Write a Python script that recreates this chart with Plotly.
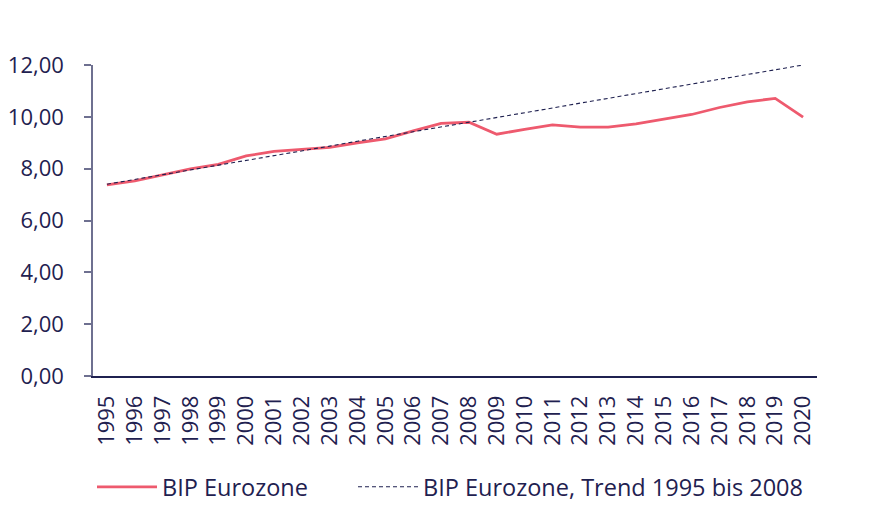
import plotly.graph_objects as go

years = [str(y) for y in range(1995, 2021)]
bip_eurozone = [7.37, 7.53, 7.76, 7.99, 8.17, 8.49, 8.67, 8.75, 8.82, 9.00, 9.15, 9.46,
                9.75, 9.79, 9.33, 9.52, 9.69, 9.60, 9.60, 9.73, 9.91, 10.09, 10.36, 10.58,
                10.71, 9.99]
trend_1995_2008 = [7.40, 7.58, 7.77, 7.95, 8.14, 8.32, 8.50, 8.69, 8.87, 9.06, 9.24, 9.42,
                   9.61, 9.79, 9.98, 10.16, 10.34, 10.53, 10.71, 10.90, 11.08, 11.26, 11.45,
                   11.63, 11.82, 12.00]
y_ticks = [0, 2, 4, 6, 8, 10, 12]
y_tick_labels = ["0,00", "2,00", "4,00", "6,00", "8,00", "10,00", "12,00"]

NAVY = "#1f2150"
RED = "#ee5a6e"
FONT = "Open Sans"

fig = go.Figure()
fig.add_trace(go.Scatter(x=years, y=bip_eurozone, mode="lines", name="BIP Eurozone",
                         line=dict(color=RED, width=2.8), legend="legend"))
fig.add_trace(go.Scatter(x=years, y=trend_1995_2008, mode="lines",
                         name="BIP Eurozone, Trend 1995 bis 2008",
                         line=dict(color=NAVY, width=1.1, dash="4px,3px"), legend="legend2"))

# page offset caused by default body margin
OFF = 8
W, H = 882, 515
PL, PR, PT, PB = 93, 817, 65, 376   # plot area in page pixels
L = PL - OFF
T = PT - OFF
R = W - (PR - OFF)
B = H - (PB - OFF)
pw, ph = PR - PL, PB - PT

def px(x):
    return (x - PL) / pw

def py(y):
    return (PB - y) / ph

legend_common = dict(orientation="h", xanchor="left", yanchor="middle",
                     font=dict(family=FONT, size=23.5, color=NAVY), itemwidth=60,
                     bgcolor="rgba(0,0,0,0)")

fig.update_layout(
    width=W, height=H,
    margin=dict(l=L, r=R, t=T, b=B, autoexpand=False),
    paper_bgcolor="white", plot_bgcolor="white",
    font=dict(family=FONT, size=22, color=NAVY),
    showlegend=True,
    legend=dict(x=px(92), y=py(487), **legend_common),
    legend2=dict(x=px(353), y=py(487), **legend_common),
    xaxis=dict(type="category", range=[-0.5, 25.5], showgrid=False, zeroline=False,
               showline=True, linecolor=NAVY, linewidth=1.5, ticks="",
               tickangle=-90, tickfont=dict(family=FONT, size=22, color=NAVY),
               ticklabelstandoff=9, automargin=False),
    yaxis=dict(range=[0, 12], showgrid=False, zeroline=False, showline=True,
               linecolor="#6e7090", linewidth=1.5, ticks="outside", ticklen=7,
               tickcolor="#6e7090", tickwidth=1.5, tickvals=y_ticks, ticktext=y_tick_labels,
               tickfont=dict(family=FONT, size=22, color=NAVY), ticklabelstandoff=16,
               automargin=False),
)

fig.write_html("out.html")
